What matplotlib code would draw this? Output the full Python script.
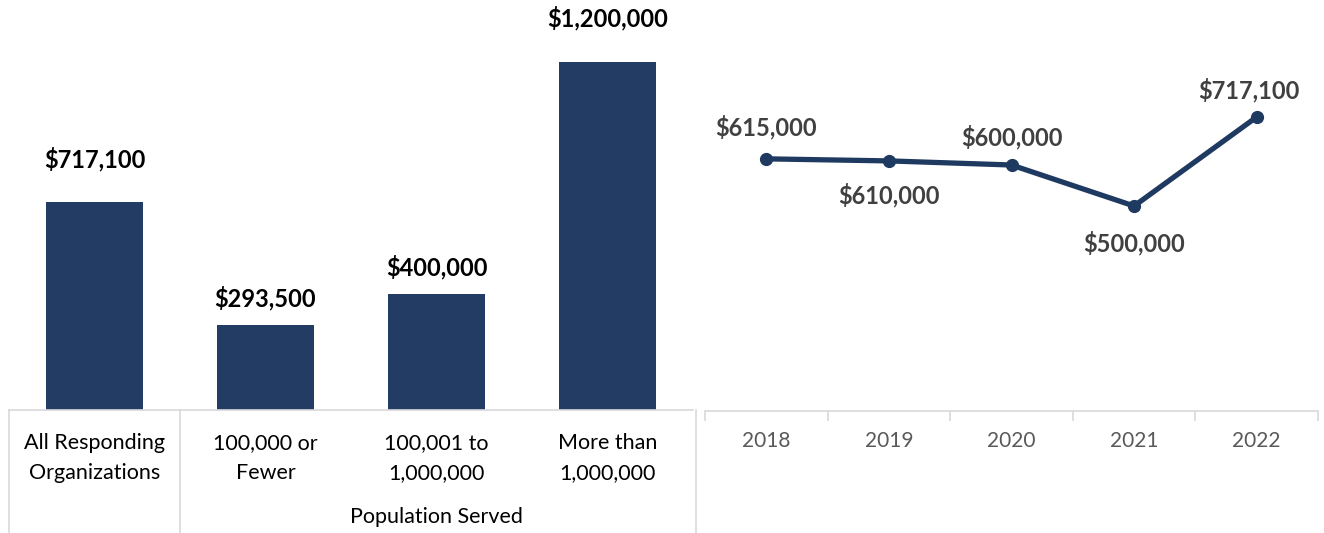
import matplotlib
matplotlib.use("Agg")
import matplotlib.pyplot as plt
from matplotlib.transforms import blended_transform_factory

plt.rcParams["font.family"] = ["Lato", "DejaVu Sans"]

# Median budget by population served
bar_categories = ["All Responding\nOrganizations", "100,000 or\nFewer", "100,001 to\n1,000,000", "More than\n1,000,000"]
bar_values = [717100, 293500, 400000, 1200000]
bar_group_label = "Population Served"

# Median budget by year
years = ["2018", "2019", "2020", "2021", "2022"]
year_values = [615000, 610000, 600000, 500000, 717100]

NAVY = "#223c64"
LINE = "#1f3a60"
GRID = "#d9d9d9"

W, H = 1324, 533
fig = plt.figure(figsize=(W / 100, H / 100), dpi=100)

def px_axes(left, top, right, bottom):
    return fig.add_axes([left / W, 1 - bottom / H, (right - left) / W, (bottom - top) / H])

def money(v):
    return "${:,.0f}".format(v)

# ---- bar chart ----
ax1 = px_axes(9, 0, 693, 410)
xs = range(len(bar_values))
ax1.bar(xs, bar_values, width=0.567, color=NAVY)
ax1.set_xlim(-0.5, 3.5)
ax1.set_ylim(0, 1200000 * 410 / 348)
bar_label_offsets = [43, 27, 27, 44]
for x, v, off in zip(xs, bar_values, bar_label_offsets):
    ax1.annotate(money(v), (x, v), xytext=(0, off), textcoords="offset pixels",
                 ha="center", va="center", fontsize=17, fontweight="bold", color="black")
for s in ["top", "right", "left"]:
    ax1.spines[s].set_visible(False)
ax1.spines["bottom"].set_color(GRID)
ax1.spines["bottom"].set_linewidth(1.2)
ax1.set_yticks([])
ax1.set_xticks([])
tr1 = blended_transform_factory(ax1.transData, ax1.transAxes)
for xv in [-0.5, 0.5, 3.52]:
    ax1.plot([xv, xv], [0, -0.31], transform=tr1, color=GRID, lw=1.2, clip_on=False)
for x, lab in zip(xs, bar_categories):
    ax1.text(x, -0.117, lab, transform=tr1, ha="center", va="center",
             fontsize=15.5, color="black", linespacing=1.58)
ax1.text(2.0, -0.261, bar_group_label, transform=tr1, ha="center", va="center",
         fontsize=15.5, color="black")

# ---- line chart ----
ax2 = px_axes(705, 1, 1318, 411)
xl = range(len(year_values))
ax2.plot(xl, year_values, color=LINE, lw=3.8, marker="o", markersize=8.5,
         solid_capstyle="round")
ax2.set_xlim(-0.5, 4.5)
ax2.set_ylim(0, 1000000)
line_label_offsets = [(0, 32), (0, -34), (0, 28), (0, -37), (-8, 27)]
for x, v, (dx, dy) in zip(xl, year_values, line_label_offsets):
    ax2.annotate(money(v), (x, v), xytext=(dx, dy), textcoords="offset pixels",
                 ha="center", va="center", fontsize=17, fontweight="bold", color="#404040")
for s in ["top", "right", "left"]:
    ax2.spines[s].set_visible(False)
ax2.spines["bottom"].set_color(GRID)
ax2.spines["bottom"].set_linewidth(1.2)
ax2.set_yticks([])
ax2.set_xticks([i - 0.5 for i in range(len(years) + 1)])
ax2.set_xticklabels([])
ax2.tick_params(axis="x", length=7, width=1.2, color=GRID)
tr2 = blended_transform_factory(ax2.transData, ax2.transAxes)
for x, lab in zip(xl, years):
    ax2.text(x, -0.073, lab, transform=tr2, ha="center", va="center",
             fontsize=15, color="#595959")

fig.savefig("out.png", dpi=100)
